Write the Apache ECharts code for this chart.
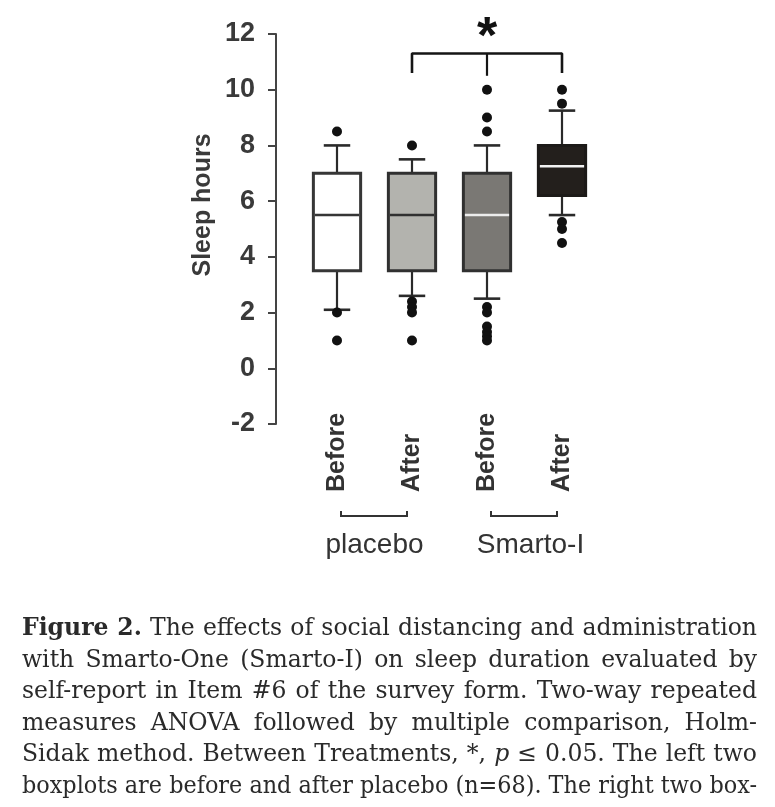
<!DOCTYPE html>
<html>
<head>
<meta charset="utf-8">
<script src="https://cdn.jsdelivr.net/npm/echarts@6/dist/echarts.min.js"></script>
<style>
html,body{margin:0;padding:0;background:#fff;}
#wrap{position:relative;width:775px;height:807px;overflow:hidden;background:#fff;}
#chart{position:absolute;left:0;top:0;width:775px;height:807px;}
#caption{position:absolute;left:22px;top:612px;width:735px;font-family:"DejaVu Serif",serif;font-size:23.5px;line-height:31.6px;color:#2a2a2a;}
#caption .ln{white-space:nowrap;text-align:left;}
#caption .ln.j{text-align:justify;text-align-last:justify;white-space:normal;}
</style>
</head>
<body>
<div id="wrap">
<div id="chart"></div>
<div id="caption">
<div class="ln"><span><b>Figure 2.</b> The effects of social distancing and administration</span></div>
<div class="ln"><span>with Smarto-One (Smarto-I) on sleep duration evaluated by</span></div>
<div class="ln"><span>self-report in Item #6 of the survey form. Two-way repeated</span></div>
<div class="ln"><span>measures ANOVA followed by multiple comparison, Holm-</span></div>
<div class="ln"><span>Sidak method. Between Treatments, *, <i>p</i> ≤ 0.05. The left two</span></div>
<div class="ln"><span>boxplots are before and after placebo (n=68). The right two box-</span></div>
</div>
</div>
<script>
// ---- data ----
const categories = ['Before', 'After', 'Before', 'After'];
const groups = ['placebo', 'Smarto-I'];
const lowerWhisker = [2.1, 2.6, 2.5, 5.5];
const q1 = [3.5, 3.5, 3.5, 6.2];
const median = [5.5, 5.5, 5.5, 7.25];
const q3 = [7, 7, 7, 8];
const upperWhisker = [8, 7.5, 8, 9.25];
const outliersPlaceboBefore = [8.5, 2.0, 1.0];
const outliersPlaceboAfter = [8.0, 2.4, 2.2, 2.0, 1.0];
const outliersSmartoBefore = [10, 9, 8.5, 2.2, 2.0, 1.5, 1.3, 1.15, 1.0];
const outliersSmartoAfter = [10, 9.5, 5.25, 5.0, 4.5];
const yTickLabels = ['-2', '0', '2', '4', '6', '8', '10', '12'];
const yMin = -2, yMax = 12, yStep = 2;
const sigFrom = 1, sigTo = 3, sigMid = 2, sigTop = 11.3, sigLeg = 10.6, sigMidLeg = 10.5;
const sigLabel = '*';

// ---- styles ----
const boxStyles = [
  {fill: '#ffffff', stroke: '#363636', median: '#363636'},
  {fill: '#b3b3ae', stroke: '#303030', median: '#303030'},
  {fill: '#7a7874', stroke: '#303030', median: '#ececec'},
  {fill: '#231f1c', stroke: '#1c1a18', median: '#f2f2f2'}
];

const boxData = categories.map((c, i) => [i, lowerWhisker[i], q1[i], median[i], q3[i], upperWhisker[i]]);
const outlierData = [];
[outliersPlaceboBefore, outliersPlaceboAfter, outliersSmartoBefore, outliersSmartoAfter]
  .forEach((arr, i) => arr.forEach(v => outlierData.push([i, v])));

function renderBox(params, api) {
  const i = params.dataIndex;
  const xi = api.value(0);
  const cx = api.coord([xi, 0])[0];
  const bw = api.size([1, 0])[0] * 0.63;
  const cap = bw * 0.56;
  const p = v => api.coord([xi, v])[1];
  const yLo = p(api.value(1)), yQ1 = p(api.value(2)), yMed = p(api.value(3)), yQ3 = p(api.value(4)), yHi = p(api.value(5));
  const s = boxStyles[i];
  const wc = '#2a2a2a';
  return {
    type: 'group',
    children: [
      {type: 'line', shape: {x1: cx, y1: yQ1, x2: cx, y2: yLo}, style: {stroke: wc, lineWidth: 2.2}},
      {type: 'line', shape: {x1: cx, y1: yQ3, x2: cx, y2: yHi}, style: {stroke: wc, lineWidth: 2.2}},
      {type: 'line', shape: {x1: cx - cap / 2, y1: yLo, x2: cx + cap / 2, y2: yLo}, style: {stroke: wc, lineWidth: 2.6}},
      {type: 'line', shape: {x1: cx - cap / 2, y1: yHi, x2: cx + cap / 2, y2: yHi}, style: {stroke: wc, lineWidth: 2.6}},
      {type: 'rect', shape: {x: cx - bw / 2, y: yQ3, width: bw, height: yQ1 - yQ3}, style: {fill: s.fill, stroke: s.stroke, lineWidth: 3}},
      {type: 'line', shape: {x1: cx - bw / 2 + 1.5, y1: yMed, x2: cx + bw / 2 - 1.5, y2: yMed}, style: {stroke: s.median, lineWidth: 2.5}}
    ]
  };
}

const chart = echarts.init(document.getElementById('chart'));
const option = {
  animation: false,
  textStyle: {fontFamily: '"Liberation Sans", Arial, sans-serif'},
  grid: {left: 299.5, right: 175.5, top: 34, bottom: 383},
  xAxis: {
    type: 'category', data: categories, boundaryGap: true,
    axisLine: {show: false, onZero: false}, axisTick: {show: false}, splitLine: {show: false},
    axisLabel: {interval: 0, rotate: 90, align: 'left', verticalAlign: 'middle', margin: 68,
      fontSize: 25, fontWeight: 'bold', color: '#333'}
  },
  yAxis: {
    type: 'value', min: yMin, max: yMax, interval: yStep, offset: 23.5,
    axisLine: {show: true, lineStyle: {color: '#444', width: 2}},
    axisTick: {show: true, length: 8, lineStyle: {color: '#444', width: 2}},
    splitLine: {show: false},
    axisLabel: {fontSize: 27, fontWeight: 'bold', color: '#3a3a3a', margin: 21,
      formatter: v => yTickLabels[Math.round((v - yMin) / yStep)]},
    name: 'Sleep hours', nameLocation: 'middle', nameGap: 60,
    nameTextStyle: {fontSize: 25, fontWeight: 'bold', color: '#3a3a3a', padding: [0, 0, 0, 48]}
  },
  series: [
    {type: 'custom', renderItem: renderBox, data: boxData, encode: {x: 0, y: [1, 2, 3, 4, 5]}, z: 2},
    {type: 'scatter', data: outlierData, symbol: 'circle', symbolSize: 10, itemStyle: {color: '#111', opacity: 1}, z: 3},
    {type: 'line', data: [[sigFrom, sigLeg], [sigFrom, sigTop], [sigTo, sigTop], [sigTo, sigLeg]], symbol: 'none',
      lineStyle: {color: '#151515', width: 2.6}, z: 4},
    {type: 'line', data: [[sigMid, sigTop], [sigMid, sigMidLeg]], symbol: 'none',
      lineStyle: {color: '#151515', width: 2.2}, z: 4}
  ]
};
chart.setOption(option);

// annotations placed from the axes
const px = (c, v) => chart.convertToPixel({gridIndex: 0}, [c, v]);
const gx = categories.map((c, i) => px(i, 0)[0]);
const topY = px(sigMid, sigTop)[1];
const axisBottom = px(0, yMin)[1];
const gBracketY = axisBottom + 92;
const graphics = [
  {type: 'text', x: gx[sigMid], y: topY - 15, style: {text: sigLabel, font: 'bold 52px "Liberation Sans", Arial', fill: '#111', align: 'center', verticalAlign: 'middle'}}
];
groups.forEach((g, k) => {
  const a = gx[2 * k] + 4, b = gx[2 * k + 1] - 5;
  graphics.push({type: 'polyline', shape: {points: [[a, gBracketY - 5], [a, gBracketY], [b, gBracketY], [b, gBracketY - 5]]},
    style: {stroke: '#333', lineWidth: 2, fill: null}});
  graphics.push({type: 'text', x: (gx[2 * k] + gx[2 * k + 1]) / 2 + (k === 1 ? 6 : 0), y: gBracketY + 29,
    style: {text: g, font: '28px "Liberation Sans", Arial', fill: '#333', align: 'center', verticalAlign: 'middle'}});
});
chart.setOption({graphic: graphics});

// caption fitting: justify lines that fit, compress lines that don't
const W = 735;
document.querySelectorAll('#caption .ln').forEach(ln => {
  const sp = ln.querySelector('span');
  const w = sp.getBoundingClientRect().width;
  if (w > W) {
    sp.style.display = 'inline-block';
    sp.style.transformOrigin = 'left center';
    sp.style.transform = 'scaleX(' + (W / w) + ')';
  } else {
    ln.classList.add('j');
  }
});
</script>
</body>
</html>
